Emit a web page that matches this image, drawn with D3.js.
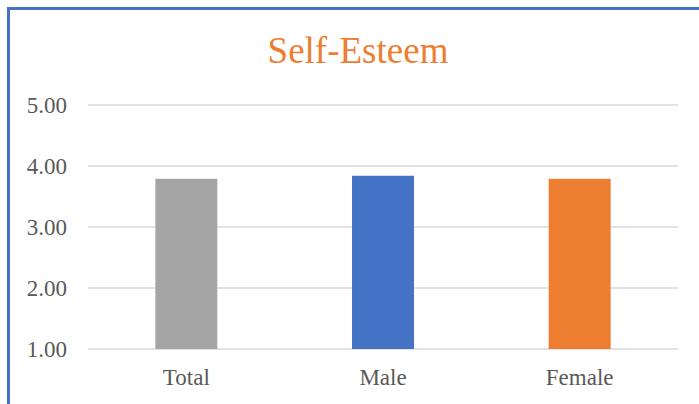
<!DOCTYPE html>
<html>
<head>
<meta charset="utf-8">
<script src="https://cdn.jsdelivr.net/npm/d3@7"></script>
<style>
  body { margin: 0; background: #fff; }
  svg { display: block; }
</style>
</head>
<body>
<svg id="chart"></svg>
<script>
// Data
const categories = ["Total", "Male", "Female"];
const values = [3.79, 3.84, 3.79];
const barColors = ["#A5A5A5", "#4472C4", "#ED7D31"];
const yTicks = [1, 2, 3, 4, 5];

let width = 699, height = 404;
const margin = { top: 105, right: 21, bottom: 55, left: 88 };

const svg = d3.select("#chart")
  .attr("width", width)
  .attr("height", height);

// chart frame (top and left edges visible)
svg.append("path")
  .attr("d", `M8.5,${height} V8.5 H${width}`)
  .attr("fill", "none")
  .attr("stroke", "#4472C4")
  .attr("stroke-width", 3);

const x = d3.scaleBand()
  .domain(categories)
  .range([margin.left, width - margin.right])
  .padding(0);

const y = d3.scaleLinear()
  .domain([1, 5])
  .range([height - margin.bottom, margin.top]);

// gridlines
svg.append("g")
  .selectAll("line")
  .data(yTicks)
  .enter()
  .append("line")
  .attr("x1", margin.left)
  .attr("x2", width - margin.right)
  .attr("y1", d => y(d))
  .attr("y2", d => y(d))
  .attr("stroke", "#D9D9D9")
  .attr("stroke-width", 1.5);

// y axis labels
const yAxis = d3.axisLeft(y)
  .tickValues(yTicks)
  .tickFormat(d3.format(".2f"))
  .tickSize(0)
  .tickPadding(21);

svg.append("g")
  .attr("transform", `translate(${margin.left},0)`)
  .call(yAxis)
  .call(g => g.select(".domain").remove())
  .selectAll("text")
  .attr("font-family", "'Liberation Serif', 'Times New Roman', serif")
  .attr("font-size", 23)
  .attr("fill", "#595959");

// bars
const barW = x.bandwidth() * 0.315;
svg.append("g")
  .selectAll("rect")
  .data(values)
  .enter()
  .append("rect")
  .attr("x", (d, i) => x(categories[i]) + x.bandwidth() / 2 - barW / 2)
  .attr("y", d => y(d))
  .attr("width", barW)
  .attr("height", d => y(1) - y(d))
  .attr("fill", (d, i) => barColors[i]);

// x axis labels
const xAxis = d3.axisBottom(x).tickSize(0).tickPadding(20);
svg.append("g")
  .attr("transform", `translate(0,${y(1)})`)
  .call(xAxis)
  .call(g => g.select(".domain").remove())
  .selectAll("text")
  .attr("font-family", "'Liberation Serif', 'Times New Roman', serif")
  .attr("font-size", 23)
  .attr("fill", "#595959");

// title
svg.append("text")
  .attr("x", (margin.left + width - margin.right) / 2 - 25)
  .attr("y", 63)
  .attr("text-anchor", "middle")
  .attr("font-family", "'Liberation Serif', 'Times New Roman', serif")
  .attr("font-size", 37)
  .attr("fill", "#ED7D31")
  .text("Self-Esteem");
</script>
</body>
</html>
